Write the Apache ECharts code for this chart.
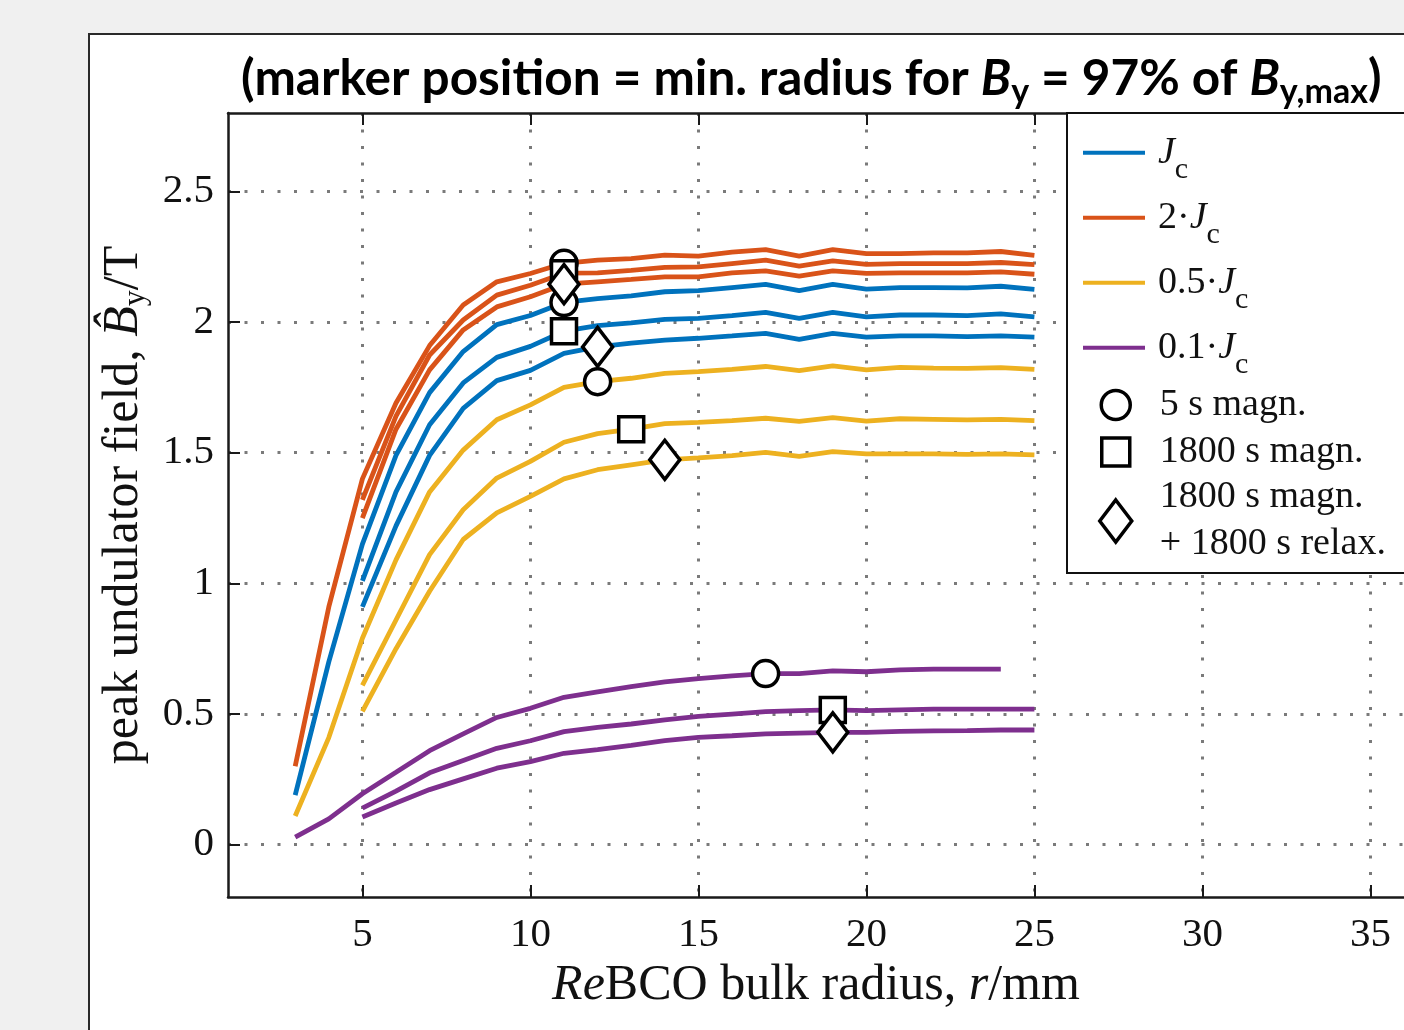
<!DOCTYPE html>
<html><head><meta charset="utf-8">
<script src="https://cdn.jsdelivr.net/npm/echarts@6/dist/echarts.min.js"></script>
<style>
html,body{margin:0;padding:0;width:1404px;height:1030px;overflow:hidden;background:#f0f0f0;}
#panel{position:absolute;left:88px;top:33px;width:1400px;height:1100px;background:#fff;border:2.5px solid #2a2a2a;box-sizing:border-box;}
#chart{position:absolute;left:0;top:0;width:1404px;height:1030px;}
</style></head><body>
<div id="panel"></div><div id="chart"></div>
<script>
// ---- data ----
const r3to25 = [3,4,5,6,7,8,9,10,11,12,13,14,15,16,17,18,19,20,21,22,23,24,25];
const r5to25 = [5,6,7,8,9,10,11,12,13,14,15,16,17,18,19,20,21,22,23,24,25];
const r3to24 = [3,4,5,6,7,8,9,10,11,12,13,14,15,16,17,18,19,20,21,22,23,24];

// J_c (blue)
const jc_5s    = [0.19,0.70,1.15,1.49,1.73,1.887,1.99,2.025,2.075,2.09,2.10,2.116,2.12,2.132,2.144,2.12,2.144,2.126,2.132,2.132,2.131,2.137,2.125];
const jc_1800  = [1.01,1.35,1.607,1.767,1.865,1.907,1.965,1.986,1.997,2.01,2.014,2.025,2.037,2.014,2.037,2.02,2.027,2.027,2.025,2.031,2.02];
const jc_relax = [0.91,1.22,1.49,1.67,1.776,1.815,1.88,1.905,1.919,1.931,1.938,1.947,1.957,1.934,1.957,1.942,1.947,1.947,1.944,1.947,1.942];
// 2 J_c (orange)
const j2_5s    = [0.30,0.91,1.40,1.69,1.91,2.065,2.154,2.186,2.225,2.237,2.243,2.256,2.252,2.268,2.277,2.252,2.277,2.262,2.262,2.265,2.265,2.270,2.255];
const j2_1800  = [1.32,1.64,1.874,2.008,2.103,2.141,2.187,2.188,2.198,2.209,2.211,2.224,2.237,2.214,2.234,2.221,2.224,2.224,2.224,2.228,2.220];
const j2_relax = [1.25,1.59,1.817,1.97,2.058,2.097,2.145,2.154,2.163,2.173,2.173,2.188,2.196,2.176,2.196,2.186,2.188,2.188,2.188,2.192,2.183];
// 0.5 J_c (yellow)
const j05_5s    = [0.11,0.41,0.79,1.09,1.35,1.51,1.626,1.683,1.75,1.772,1.785,1.804,1.81,1.819,1.83,1.814,1.832,1.817,1.827,1.824,1.823,1.826,1.819];
const j05_1800  = [0.61,0.86,1.11,1.282,1.403,1.467,1.54,1.573,1.59,1.611,1.616,1.623,1.632,1.62,1.634,1.621,1.63,1.628,1.626,1.628,1.623];
const j05_relax = [0.51,0.75,0.97,1.168,1.27,1.333,1.40,1.435,1.454,1.473,1.48,1.489,1.501,1.486,1.504,1.496,1.496,1.496,1.494,1.496,1.492];
// 0.1 J_c (purple)
const j01_5s    = [0.029,0.099,0.195,0.277,0.36,0.424,0.487,0.522,0.564,0.585,0.605,0.623,0.636,0.646,0.655,0.655,0.665,0.662,0.669,0.672,0.672,0.672];
const j01_1800  = [0.14,0.205,0.275,0.322,0.369,0.398,0.433,0.449,0.462,0.478,0.491,0.50,0.509,0.513,0.516,0.513,0.516,0.519,0.519,0.519,0.519];
const j01_relax = [0.106,0.16,0.211,0.252,0.293,0.318,0.35,0.364,0.38,0.398,0.411,0.417,0.424,0.427,0.43,0.43,0.434,0.436,0.437,0.439,0.439];

// marker positions (radius where B_y reaches 97 % of max)
const circleMarks  = [['j2_5s',11],['jc_5s',11],['j05_5s',12],['j01_5s',17]];
const squareMarks  = [['j2_1800',11],['jc_1800',11],['j05_1800',13],['j01_1800',19]];
const diamondMarks = [['j2_relax',11],['jc_relax',12],['j05_relax',14],['j01_relax',19]];

const xTicks = [5,10,15,20,25,30,35];
const yTicks = [0,0.5,1,1.5,2,2.5];

// ---- build ----
const curves = {
  jc_5s:[r3to25,jc_5s], jc_1800:[r5to25,jc_1800], jc_relax:[r5to25,jc_relax],
  j2_5s:[r3to25,j2_5s], j2_1800:[r5to25,j2_1800], j2_relax:[r5to25,j2_relax],
  j05_5s:[r3to25,j05_5s], j05_1800:[r5to25,j05_1800], j05_relax:[r5to25,j05_relax],
  j01_5s:[r3to24,j01_5s], j01_1800:[r5to25,j01_1800], j01_relax:[r5to25,j01_relax]
};
const groups = [
  {name:'Jc',    color:'#0072BD', keys:['jc_5s','jc_1800','jc_relax']},
  {name:'2Jc',   color:'#D95319', keys:['j2_5s','j2_1800','j2_relax']},
  {name:'0.5Jc', color:'#EDB120', keys:['j05_5s','j05_1800','j05_relax']},
  {name:'0.1Jc', color:'#7E2F8E', keys:['j01_5s','j01_1800','j01_relax']}
];
function pts(key){ const c=curves[key]; return c[0].map((x,i)=>[x,c[1][i]]); }
function markPts(list){ return list.map(([k,r])=>{ const c=curves[k]; return [r, c[1][c[0].indexOf(r)]]; }); }

const series = [];
groups.forEach(g=>g.keys.forEach(k=>series.push({
  type:'line', name:g.name, data:pts(k), showSymbol:false, symbol:'none',
  lineStyle:{color:g.color,width:4.8}, itemStyle:{color:g.color}, z:2, silent:true
})));
const mStyle = {color:'#fff', borderColor:'#000', borderWidth:3.5, opacity:1};
const diamondPath = 'path://M10,0 L20,13 L10,26 L0,13 Z';
series.push({type:'scatter', name:'5 s magn.', symbol:'circle', symbolSize:26, data:markPts(circleMarks), itemStyle:mStyle, z:3, silent:true});
series.push({type:'scatter', name:'1800 s magn.', symbol:'rect', symbolSize:25, data:markPts(squareMarks), itemStyle:mStyle, z:4, silent:true});
series.push({type:'scatter', name:'relax', symbol:diamondPath, symbolKeepAspect:true, symbolSize:39, data:markPts(diamondMarks), itemStyle:mStyle, z:5, silent:true});

const SERIF = '"Liberation Serif","Times New Roman",serif';
const AX = '#1a1a1a';
const gridDots = {color:'#7a7a7a', width:3, type:[3,13.5]};

const legendRich = {
  s:{width:8, lineHeight:64},
  n:{fontFamily:SERIF, fontSize:38, color:'#111', lineHeight:64, verticalAlign:'middle'},
  j:{fontFamily:SERIF, fontSize:38, fontStyle:'italic', color:'#111', lineHeight:64, verticalAlign:'middle'},
  c:{fontFamily:SERIF, fontSize:30, color:'#111', lineHeight:22, verticalAlign:'bottom'}
};
const legendLabels = {'Jc':'{s|}{j|J}{c|c}','2Jc':'{s|}{n|2·}{j|J}{c|c}','0.5Jc':'{s|}{n|0.5·}{j|J}{c|c}','0.1Jc':'{s|}{n|0.1·}{j|J}{c|c}'};
const mText = {fontFamily:SERIF, fontSize:38, color:'#111', lineHeight:47};
const mIcon = {color:'#fff', borderColor:'#000', borderWidth:3.5};

const option = {
  backgroundColor:'transparent',
  animation:false,
  title:{
    text:'{t|(marker position = min. radius for }{b|B}{s|y}{t| = 97% of }{b|B}{s|y,max}{t|)}',
    left:236, top:44,
    textStyle:{rich:{
      t:{fontFamily:'Lato', fontWeight:'bold', fontSize:49.5, color:'#000', lineHeight:60, verticalAlign:'middle'},
      b:{fontFamily:'Lato', fontWeight:'bold', fontStyle:'italic', fontSize:49.5, color:'#000', lineHeight:60, verticalAlign:'middle'},
      s:{fontFamily:'Lato', fontWeight:'bold', fontSize:34, color:'#000', lineHeight:34, verticalAlign:'bottom'}
    }}
  },
  grid:{left:228, top:113, width:1179.5, height:784, containLabel:false},
  xAxis:[{
    type:'value', min:1, max:36, position:'bottom',
    axisLine:{show:true, onZero:false, lineStyle:{color:AX, width:2.5}},
    axisTick:{show:true, inside:true, length:12, customValues:xTicks, lineStyle:{color:AX, width:2}},
    axisLabel:{customValues:xTicks, margin:18, fontFamily:SERIF, fontSize:41, color:'#111'},
    splitLine:{show:true, lineStyle:gridDots},
    name:'{i|Re}{t|BCO bulk radius, }{i|r}{t|/mm}', nameLocation:'middle', nameGap:62,
    nameTextStyle:{rich:{
      t:{fontFamily:SERIF, fontSize:50, color:'#111'},
      i:{fontFamily:SERIF, fontSize:50, fontStyle:'italic', color:'#111'}
    }}
  },{
    type:'value', min:1, max:36, position:'top',
    axisLine:{show:true, onZero:false, lineStyle:{color:AX, width:2.5}},
    axisTick:{show:true, inside:true, length:12, customValues:xTicks, lineStyle:{color:AX, width:2}},
    axisLabel:{show:false}, splitLine:{show:false}
  }],
  yAxis:[{
    type:'value', min:-0.2, max:2.8,
    axisLine:{show:true, onZero:false, lineStyle:{color:AX, width:2.5}},
    axisTick:{show:true, inside:true, length:12, customValues:yTicks, lineStyle:{color:AX, width:2}},
    axisLabel:{customValues:yTicks, margin:14, fontFamily:SERIF, fontSize:41, color:'#111'},
    splitLine:{show:true, lineStyle:gridDots},
    name:'{t|peak undulator field, }{i|B\u0302}{s|y}{t|/T}', nameLocation:'middle', nameGap:56, nameRotate:90,
    nameTextStyle:{rich:{
      t:{fontFamily:SERIF, fontSize:50, color:'#111', lineHeight:56, verticalAlign:'middle'},
      i:{fontFamily:SERIF, fontSize:50, fontStyle:'italic', color:'#111', lineHeight:56, verticalAlign:'middle'},
      s:{fontFamily:SERIF, fontSize:32, color:'#111', lineHeight:32, verticalAlign:'bottom'}
    }}
  }],
  graphic:{elements:[{
    type:'rect', z:100, shape:{x:1067, y:113, width:400, height:460},
    style:{fill:'#fff', stroke:'#111', lineWidth:2}
  }]},
  legend:[{
    z:120, orient:'vertical', left:1083, top:133.7, itemGap:14, padding:0,
    itemWidth:62, itemHeight:4, icon:'rect',
    data:['Jc','2Jc','0.5Jc','0.1Jc'],
    formatter:n=>legendLabels[n],
    textStyle:{rich:legendRich}, selectedMode:false
  },{
    z:120, orient:'vertical', left:1099.5, top:381.5, padding:0,
    itemWidth:29, itemHeight:29, symbolKeepAspect:false,
    data:[{name:'5 s magn.', icon:'circle'}],
    itemStyle:mIcon,
    textStyle:Object.assign({padding:[0,0,0,24.5]}, mText), selectedMode:false
  },{
    z:120, orient:'vertical', left:1100, top:428.5, padding:0,
    itemWidth:28, itemHeight:28, symbolKeepAspect:false,
    data:[{name:'1800 s magn.', icon:'rect'}],
    itemStyle:mIcon,
    textStyle:Object.assign({padding:[0,0,0,25]}, mText), selectedMode:false
  },{
    z:120, orient:'vertical', left:1098, top:474, padding:0,
    itemWidth:32, itemHeight:42, symbolKeepAspect:false,
    data:[{name:'relax', icon:diamondPath}],
    formatter:()=>'1800 s magn.\n+ 1800 s relax.',
    itemStyle:mIcon,
    textStyle:Object.assign({padding:[0,0,0,23]}, mText), selectedMode:false
  }],
  series:series
};
const chart = echarts.init(document.getElementById('chart'), null, {renderer:'canvas'});
chart.setOption(option);
</script>
</body></html>
